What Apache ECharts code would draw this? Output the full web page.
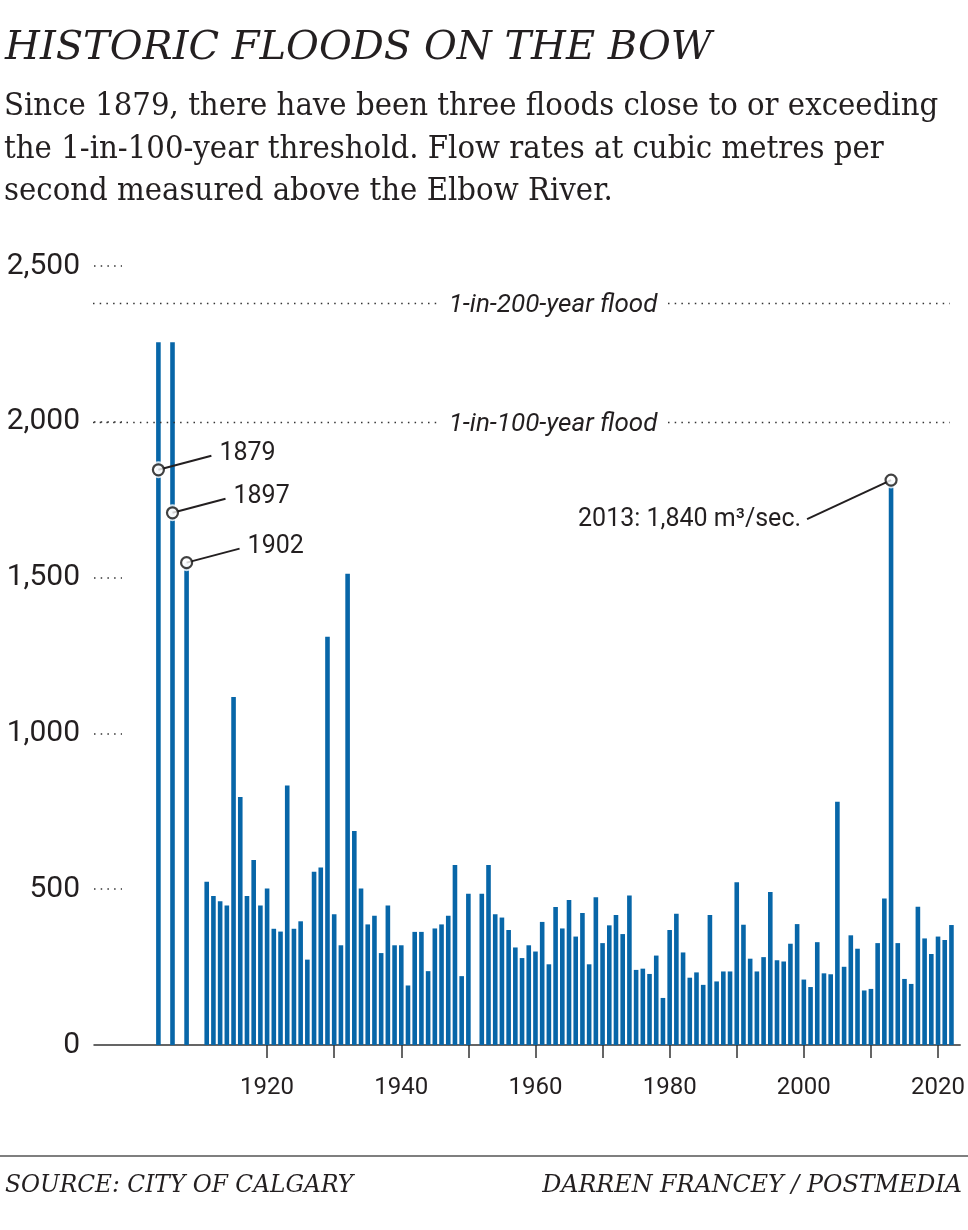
<!DOCTYPE html>
<html><head><meta charset="utf-8">
<script src="https://cdn.jsdelivr.net/npm/echarts@6/dist/echarts.min.js"></script>
<style>html,body{margin:0;padding:0;background:#fff}#c{width:968px;height:1230px}</style>
</head><body><div id="c"></div>
<script>
// ---------- data ----------
const historicLabels = ['1879', '1897', '1902'];
const historicSlots = [1903.8, 1905.9, 1908.0];      // where the early floods sit on the year axis
const historicBarFlow = [2255, 2255, 1548];
const historicPeakFlow = [1846, 1708, 1548];

const annualYears = [
  1911,1912,1913,1914,1915,1916,1917,1918,1919,1920,
  1921,1922,1923,1924,1925,1926,1927,1928,1929,1930,
  1931,1932,1933,1934,1935,1936,1937,1938,1939,1940,
  1941,1942,1943,1944,1945,1946,1947,1948,1949,1950,
  1952,1953,1954,1955,1956,1957,1958,1959,1960,
  1961,1962,1963,1964,1965,1966,1967,1968,1969,1970,
  1971,1972,1973,1974,1975,1976,1977,1978,1979,1980,
  1981,1982,1983,1984,1985,1986,1987,1988,1989,1990,
  1991,1992,1993,1994,1995,1996,1997,1998,1999,2000,
  2001,2002,2003,2004,2005,2006,2007,2008,2009,2010,
  2011,2012,2013,2014,2015,2016,2017,2018,2019,2020,
  2021,2022
];
const annualFlow = [
  524,478,461,448,1117,796,478,594,448,502,
  373,364,833,373,397,274,556,570,1310,420,
  320,1512,687,502,387,415,295,448,320,320,
  191,363,363,237,374,387,415,578,221,485,
  485,578,420,409,369,313,279,320,300,
  395,259,443,374,465,348,424,259,474,327,
  384,417,356,480,241,245,228,287,151,369,
  421,297,216,233,193,417,204,236,236,522,
  386,277,236,282,491,272,268,325,388,210,
  186,330,230,227,781,251,352,309,175,180,
  327,470,1813,327,212,196,444,342,292,348,
  337,385
];
const highlightYear = 2013;
const highlightLabel = '2013: 1,840 m\u00b3/sec.';

const thresholdNames = ['1-in-200-year flood', '1-in-100-year flood'];
const thresholdValues = [2380, 2000];

const yTickValues = [0, 500, 1000, 1500, 2000, 2500];
const yDotTickValues = [500, 1000, 1500, 2000, 2500];
const xTickYears = [1920,1930,1940,1950,1960,1970,1980,1990,2000,2010,2020];
const xLabelYears = [1920,1940,1960,1980,2000,2020];

const titleText = 'HISTORIC FLOODS ON THE BOW';
const subtitleLines = [
  'Since 1879, there have been three floods close to or exceeding',
  'the 1-in-100-year threshold. Flow rates at cubic metres per',
  'second measured above the Elbow River.'
];
const sourceText = 'SOURCE: CITY OF CALGARY';
const creditText = 'DARREN FRANCEY / POSTMEDIA';

// ---------- chart ----------
const BAR = '#0766a8';
const INK = '#231f20';
const SANS = "Roboto, 'Noto Sans', sans-serif";
const SERIF = "'DejaVu Serif', 'Liberation Serif', serif";
const SERIF_C = "'DejaVu Serif Condensed', 'DejaVu Serif', serif";

const barData = historicSlots.map((x, i) => [x, historicBarFlow[i]])
  .concat(annualYears.map((y, i) => [y, annualFlow[i]]));
const hiIdx = annualYears.indexOf(highlightYear);
const markerData = historicSlots.map((x, i) => [x, historicPeakFlow[i]])
  .concat([[highlightYear, annualFlow[hiIdx]]]);

const chart = echarts.init(document.getElementById('c'), null, {renderer: 'canvas', width: 968, height: 1230});
chart.setOption({
  animation: false,
  backgroundColor: '#fff',
  grid: {left: 94, right: 5, top: 266, bottom: 185, containLabel: false},
  xAxis: {
    type: 'value', min: 1894.2, max: 2023.3,
    splitLine: {show: false},
    axisLine: {show: true, lineStyle: {color: '#333', width: 1.5}},
    axisTick: {show: true, length: 13, lineStyle: {color: '#333', width: 1.5}, customValues: xTickYears},
    axisLabel: {customValues: xLabelYears, formatter: v => String(v), color: INK, fontFamily: SANS, fontSize: 24, margin: 31}
  },
  yAxis: {
    type: 'value', min: 0, max: 2500, interval: 500,
    splitLine: {show: false},
    axisLine: {show: false},
    axisTick: {show: true, inside: true, length: 28, customValues: yDotTickValues,
               lineStyle: {color: '#333', width: 1.5, type: [1.5, 5.2]}},
    axisLabel: {customValues: yTickValues, formatter: v => v.toLocaleString('en-US'), color: INK, fontFamily: SANS, fontSize: 30, margin: 14}
  },
  series: [
    {type: 'bar', data: barData, barWidth: 4.6, itemStyle: {color: BAR}, z: 2},
    {type: 'scatter', data: markerData, symbol: 'circle', symbolSize: 17, itemStyle: {color: '#fff'}, z: 3, silent: true},
    {type: 'scatter', data: markerData, symbol: 'circle', symbolSize: 11,
     itemStyle: {color: '#fff', borderColor: '#111', borderWidth: 2.2}, z: 6, silent: true}
  ]
});

// ---------- annotations (placed from the chart's own scales) ----------
const px = (x, y) => chart.convertToPixel({gridIndex: 0}, [x, y]);
const g = [];
// header
g.push({type: 'text', z: 10, style: {text: titleText, x: 5, y: 49, font: 'italic 40px ' + SERIF, fill: INK, verticalAlign: 'middle', align: 'left'}});
subtitleLines.forEach((t, i) => g.push({type: 'text', z: 10,
  style: {text: t, x: 4, y: 107 + i * 42.5, font: '32.5px ' + SERIF_C, fill: INK, verticalAlign: 'middle', align: 'left'}}));
// footer
g.push({type: 'line', z: 10, shape: {x1: 0, y1: 1156, x2: 968, y2: 1156}, style: {stroke: '#555', lineWidth: 1.5}});
g.push({type: 'text', z: 10, style: {text: sourceText, x: 5, y: 1186, font: 'italic 23.3px ' + SERIF, fill: INK, verticalAlign: 'middle', align: 'left'}});
g.push({type: 'text', z: 10, style: {text: creditText, x: 962, y: 1186, font: 'italic 23.8px ' + SERIF, fill: INK, verticalAlign: 'middle', align: 'right'}});

// threshold reference lines
thresholdValues.forEach((v, i) => {
  const yy = Math.round(px(1920, v)[1]) + 0.5;
  [[93, 438], [668, 950]].forEach(([a, b]) => g.push({type: 'line', z: 4,
    shape: {x1: a, y1: yy, x2: b, y2: yy},
    style: {stroke: '#333', lineWidth: 1.5, lineDash: [1.5, 5.2]}}));
  g.push({type: 'text', z: 4, style: {text: thresholdNames[i], x: 553, y: yy + 2,
    font: 'italic 26px ' + SANS, fill: INK, align: 'center', verticalAlign: 'middle'}});
});

// leader lines + labels for the marked floods
markerData.forEach((d, i) => {
  const p = px(d[0], d[1]);
  let lx, ly, tx, ty, align, text;
  if (i < historicLabels.length) {
    lx = p[0] + 53; ly = p[1] - 14; tx = p[0] + 61; ty = p[1] - 16; align = 'left'; text = historicLabels[i];
  } else {
    lx = p[0] - 84; ly = p[1] + 39; tx = p[0] - 90; ty = p[1] + 40; align = 'right'; text = highlightLabel;
  }
  g.push({type: 'line', z: 5, shape: {x1: p[0], y1: p[1], x2: lx, y2: ly}, style: {stroke: INK, lineWidth: 2}});
  g.push({type: 'text', z: 7, style: {text: text, x: tx, y: ty, font: '25px ' + SANS, fill: INK, align: align, verticalAlign: 'middle'}});
});

chart.setOption({graphic: g});
</script>
</body></html>
